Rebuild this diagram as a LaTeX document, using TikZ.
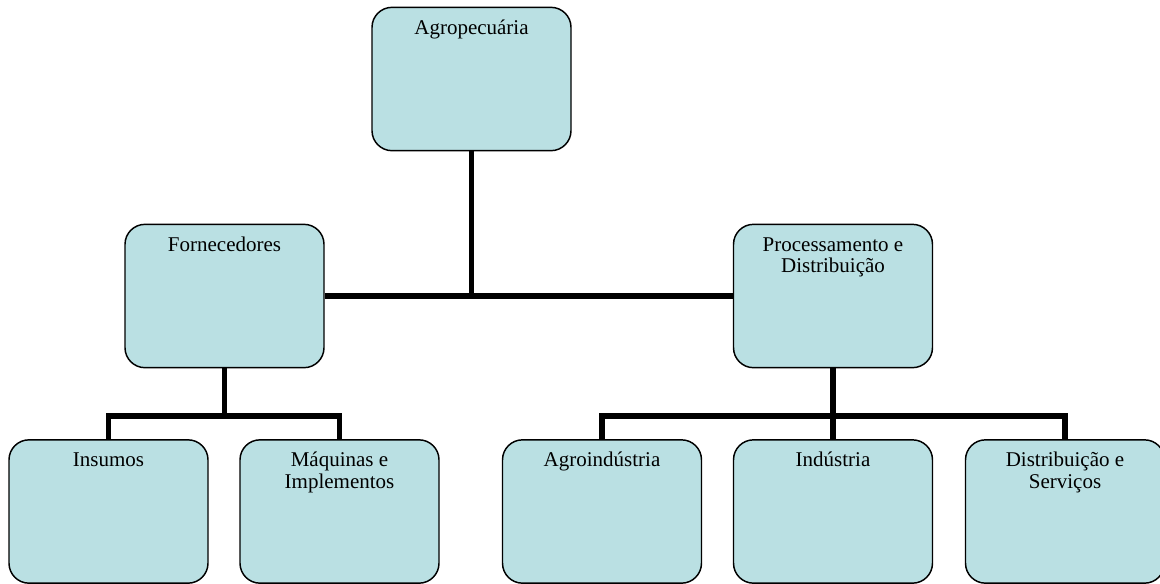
\documentclass[tikz,border=0pt]{standalone}
\usepackage{fontspec}
\setmainfont{Liberation Serif}
\definecolor{boxfill}{RGB}{186,224,227}
\begin{document}
\begin{tikzpicture}[x=0.75pt,y=-0.75pt,
  box/.style={draw=black, line width=1.1pt, fill=boxfill, rounded corners=15pt,
    minimum width=149.25pt, minimum height=107.5pt, inner sep=0pt},
  boxtext/.style={anchor=north, inner sep=0pt, align=center,
    font=\fontsize{15.75pt}{16pt}\selectfont, yshift=-9.5pt},
  conn/.style={draw=black, line width=3.8pt, line join=miter}]
\useasboundingbox (0,0) rectangle (1160,583);
\clip (0,0) rectangle (1160,583);
% boxes
\node[box] (agro) at (471.5,79) {};
\node[box] (forn) at (224.5,296) {};
\node[box] (proc) at (833,296) {};
\node[box] (ins)  at (108.5,511.5) {};
\node[box] (maq)  at (339.5,511.5) {};
\node[box] (agi)  at (602,511.5) {};
\node[box] (ind)  at (833,511.5) {};
\node[box] (dis)  at (1065,511.5) {};
% texts
\node[boxtext] (tagro) at (agro.north) {\strut Agropecuária};
\node[boxtext] (tforn) at (forn.north) {\strut Fornecedores};
\node[boxtext] (tproc) at (proc.north) {\strut Processamento e\\Distribuição};
\node[boxtext] (tins)  at (ins.north)  {\strut Insumos};
\node[boxtext] (tmaq)  at (maq.north)  {\strut Máquinas e\\Implementos};
\node[boxtext] (tagi)  at (agi.north)  {\strut Agroindústria};
\node[boxtext] (tind)  at (ind.north)  {\strut Indústria};
\node[boxtext] (tdis)  at (dis.north)  {\strut Distribuição e\\Serviços};
% connectors
\coordinate (fj) at (224.5,416);
\coordinate (pj) at (833,416);
\draw[conn] (forn.east) -- (proc.west);
\draw[conn] (agro.south) -- (agro.south |- forn.east);
\draw[conn] (forn.south) -- (fj);
\draw[conn] (ins.north) |- (fj) -| (maq.north);
\draw[conn] (proc.south) -- (ind.north);
\draw[conn] (agi.north) |- (pj) -| (dis.north);
\end{tikzpicture}
\end{document}
